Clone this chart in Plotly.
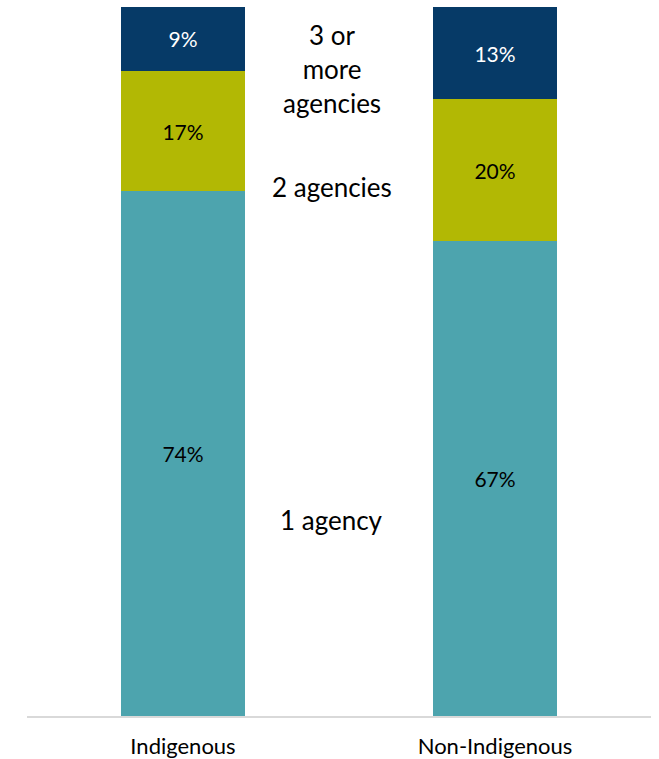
import plotly.graph_objects as go

# Share of people by number of agencies involved
groups = ["Indigenous", "Non-Indigenous"]
one_agency = [74, 67]
two_agencies = [17, 20]
three_plus = [9, 13]

series_names = ["1 agency", "2 agencies", "3 or more agencies"]
series_values = [one_agency, two_agencies, three_plus]
series_colors = ["#4DA4AE", "#B2B804", "#063A67"]
label_colors = ["#000000", "#000000", "#FFFFFF"]

FONT = "Lato, 'Open Sans', sans-serif"

fig = go.Figure()
for name, vals, col, tcol in zip(series_names, series_values, series_colors, label_colors):
    fig.add_trace(go.Bar(
        x=groups,
        y=vals,
        name=name,
        marker=dict(color=col, line=dict(width=0)),
        text=[f"{v}%" for v in vals],
        textposition="inside",
        insidetextanchor="middle",
        constraintext="none",
        textangle=0,
        textfont=dict(color=tcol, size=21, family=FONT),
        width=0.4,
        hoverinfo="skip",
    ))

# Segment names placed between the two bars
seg_labels = ["1 agency", "2 agencies", "3 or<br>more<br>agencies"]
seg_y = [27.6, 74.6, 91.3]
for txt, yy in zip(seg_labels, seg_y):
    fig.add_annotation(
        x=0.476, y=yy, xref="x", yref="y",
        text=txt, showarrow=False,
        font=dict(size=26, color="#000000", family=FONT),
        align="center",
    )

fig.update_layout(
    barmode="stack",
    width=659, height=759,
    margin=dict(l=27, r=8, t=7, b=43),
    plot_bgcolor="white",
    paper_bgcolor="white",
    showlegend=False,
    bargap=0.6,
    font=dict(family=FONT),
)
fig.update_xaxes(
    showline=True, linecolor="#D9D9D9", linewidth=1.5,
    ticks="", tickfont=dict(size=22, color="#000000", family=FONT),
    ticklabelstandoff=10,
    automargin=False,
    showgrid=False,
)
fig.update_yaxes(
    range=[0, 100], visible=False, showgrid=False, zeroline=False,
    automargin=False,
)

fig.write_html("out.html")
